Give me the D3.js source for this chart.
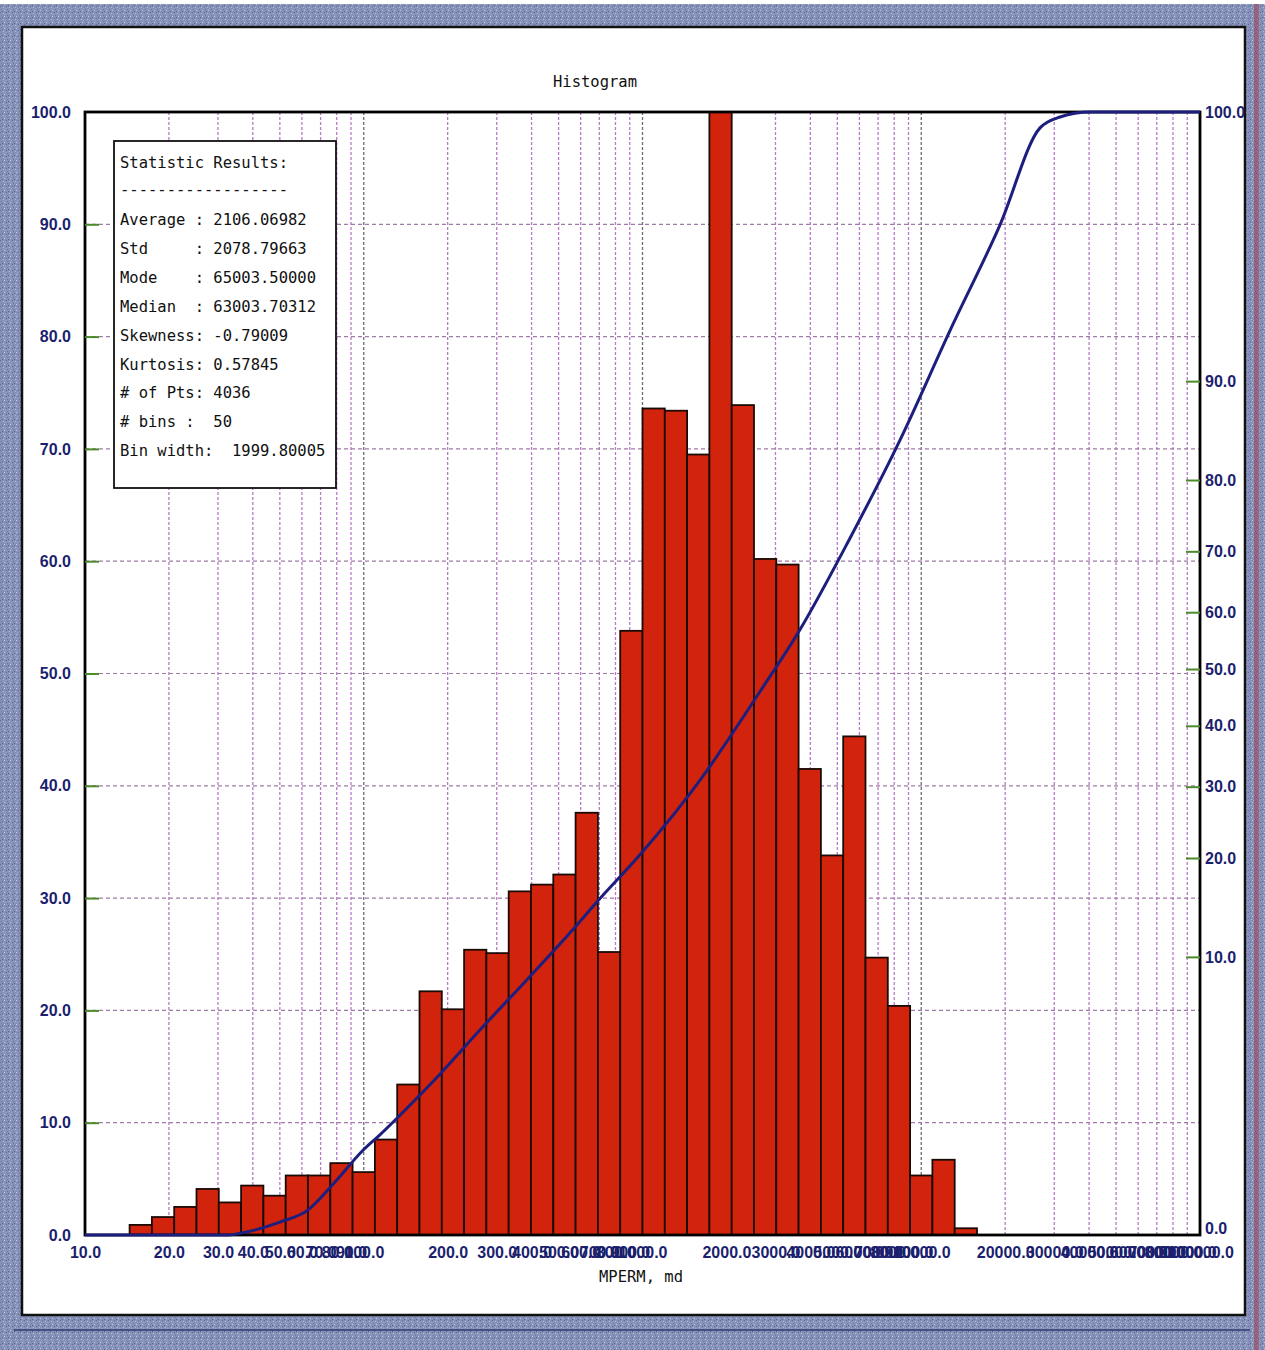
<!DOCTYPE html>
<html lang="en">
<head>
    <meta charset="UTF-8">
    <title>Histogram</title>
    <script src="https://d3js.org/d3.v7.min.js"></script>
    <style>
        body { margin: 0; background: #fff; }
        .axis text { font-family: "Liberation Sans", Arial, sans-serif; font-size: 16px; font-weight: bold; fill: #1b1f6e; }
        .mono { font-family: "DejaVu Sans Mono", monospace; font-size: 15.5px; fill: #111; white-space: pre; }
    </style>
</head>
<body>
    <svg id="chart" width="1265" height="1350"></svg>

    <script>
        // histogram bars, % of the tallest bin, 50 log-spaced bins from 10 to 100000
        const binPct = [0, 0, 0.9, 1.6, 2.5, 4.1, 2.9, 4.4, 3.5, 5.3, 5.3, 6.4,
            5.6, 8.5, 13.4, 21.7, 20.1, 25.4, 25.1, 30.6, 31.2, 32.1,
            37.6, 25.2, 53.8, 73.6, 73.4, 69.5, 100, 73.9, 60.2, 59.7,
            41.5, 33.8, 44.4, 24.7, 20.4, 5.3, 6.7, 0.6,
            0, 0, 0, 0, 0, 0, 0, 0, 0, 0];

        // cumulative curve (right axis, probability scale)
        const cumX = [10, 33, 36, 50, 63, 78, 99, 114, 150, 189, 261, 388, 563, 687, 979,
            1607, 2640, 3675, 5550, 8390, 12680, 19170, 26670, 31470, 40290, 100000];
        const cumP = [0, 0, 0.6, 0.69, 0.8, 1.1, 1.6, 1.9, 2.69, 3.6, 5.4, 8.4, 12.3, 15.0, 20.4,
            31, 46, 57, 72, 84.6, 93.4, 97.6, 99.2, 99.3, 100, 100];

        const leftTicks = d3.range(0, 101, 10);
        const rightTicks = d3.range(0, 101, 10);
        const decades = [10, 100, 1000, 10000];

        const statLines = [
            "Statistic Results:",
            "------------------",
            "Average : 2106.06982",
            "Std     : 2078.79663",
            "Mode    : 65003.50000",
            "Median  : 63003.70312",
            "Skewness: -0.79009",
            "Kurtosis: 0.57845",
            "# of Pts: 4036",
            "# bins :  50",
            "Bin width:  1999.80005"
        ];

        const nBins = binPct.length;
        const xTicks = [];
        decades.forEach(d => { for (let m = 1; m < 10; m++) xTicks.push(d * m); });
        xTicks.push(100000);

        const svg = d3.select("#chart");
        const pLeft = 85, pRight = 1200, pTop = 112, pBottom = 1235;

        const x = d3.scaleLog().domain([10, 100000]).range([pLeft, pRight]);
        const y = d3.scaleLinear().domain([0, 100]).range([pBottom, pTop]);

        // normal quantile (Abramowitz & Stegun 26.2.23)
        function probit(p) {
            if (p <= 0) return -10;
            if (p >= 1) return 10;
            const q = p < 0.5 ? p : 1 - p;
            const t = Math.sqrt(-2 * Math.log(q));
            const z = t - (2.515517 + 0.802853 * t + 0.010328 * t * t) /
                (1 + 1.432788 * t + 0.189269 * t * t + 0.001308 * t * t * t);
            return p < 0.5 ? -z : z;
        }
        const zScale = d3.scaleLinear().domain([-2.52, 2.48]).range([pBottom, pTop]).clamp(true);
        const yR = p => zScale(probit(p / 100));

        // background frame
        const defs = svg.append("defs");
        const pat = defs.append("pattern").attr("id", "noise")
            .attr("width", 6).attr("height", 6).attr("patternUnits", "userSpaceOnUse");
        pat.append("rect").attr("width", 6).attr("height", 6).attr("fill", "#8792b8");
        [[0, 0, "#5d6a9c"], [3, 1, "#b4bcd6"], [1, 3, "#6f7aa8"], [4, 4, "#c3c9de"], [2, 5, "#56639a"], [5, 2, "#9aa3c6"]]
            .forEach(d => pat.append("rect").attr("x", d[0]).attr("y", d[1])
                .attr("width", 1).attr("height", 1).attr("fill", d[2]));

        svg.append("rect").attr("x", 0).attr("y", 4).attr("width", 1265).attr("height", 1346).attr("fill", "url(#noise)");
        svg.append("rect").attr("x", 1254).attr("y", 4).attr("width", 5).attr("height", 1346).attr("fill", "#a0455a").attr("opacity", 0.6);
        svg.append("line").attr("x1", 14).attr("x2", 1250).attr("y1", 1330).attr("y2", 1330).attr("stroke", "#2f3a70").attr("stroke-width", 1.5);
        svg.append("rect").attr("x", 22).attr("y", 27).attr("width", 1223).attr("height", 1288)
            .attr("fill", "#fff").attr("stroke", "#111").attr("stroke-width", 2.5);

        // grid
        const grid = svg.append("g");
        grid.selectAll("line.v").data(xTicks.filter(v => v > 10 && v < 100000)).join("line")
            .attr("x1", d => x(d)).attr("x2", d => x(d)).attr("y1", pTop).attr("y2", pBottom)
            .attr("stroke", d => decades.includes(d) ? "#6e6a78" : "#b87ac8")
            .attr("stroke-width", 1.3).attr("stroke-dasharray", "3,2");
        grid.selectAll("line.h").data(leftTicks.filter(v => v > 0 && v < 100)).join("line")
            .attr("x1", pLeft).attr("x2", pRight).attr("y1", d => y(d)).attr("y2", d => y(d))
            .attr("stroke", "#a07aa8").attr("stroke-width", 1.2).attr("stroke-dasharray", "4,3");

        // bars
        const bins = binPct.map((v, i) => ({
            x0: Math.pow(10, 1 + 4 * i / nBins),
            x1: Math.pow(10, 1 + 4 * (i + 1) / nBins),
            v: v
        })).filter(d => d.v > 0);

        svg.append("g").selectAll("rect").data(bins).join("rect")
            .attr("x", d => x(d.x0)).attr("width", d => x(d.x1) - x(d.x0))
            .attr("y", d => y(d.v)).attr("height", d => y(0) - y(d.v))
            .attr("fill", "#d2240c").attr("stroke", "#1a0a05").attr("stroke-width", 1.8);

        // plot frame
        svg.append("rect").attr("x", pLeft).attr("y", pTop).attr("width", pRight - pLeft).attr("height", pBottom - pTop)
            .attr("fill", "none").attr("stroke", "#000").attr("stroke-width", 2.8);

        // cumulative line
        const line = d3.line().x((d, i) => x(cumX[i])).y(d => yR(d)).curve(d3.curveMonotoneX);
        svg.append("path").datum(cumP).attr("d", line)
            .attr("fill", "none").attr("stroke", "#1c1f7e").attr("stroke-width", 3);

        // axes
        const gl = svg.append("g").attr("class", "axis").attr("transform", `translate(${pLeft},0)`)
            .call(d3.axisLeft(y).tickValues(leftTicks).tickFormat(d3.format(".1f")).tickSize(-14).tickPadding(14));
        gl.select(".domain").remove();
        gl.selectAll(".tick line").attr("stroke", "#4c8a2a").attr("stroke-width", 2)
            .filter(d => d === 0 || d === 100).remove();

        const gr = svg.append("g").attr("class", "axis").attr("transform", `translate(${pRight},0)`)
            .call(d3.axisRight(d3.scaleIdentity()).tickValues(rightTicks.map(yR)).tickFormat((d, i) => d3.format(".1f")(rightTicks[i]))
                .tickSize(-14).tickPadding(5));
        gr.select(".domain").remove();
        gr.selectAll(".tick line").attr("stroke", "#4c8a2a").attr("stroke-width", 2)
            .filter((d, i) => i === 0 || i === rightTicks.length - 1).remove();
        gr.selectAll(".tick text").attr("dy", (d, i) => i === 0 ? "-0.1em" : "0.32em");

        const gb = svg.append("g").attr("class", "axis").attr("transform", `translate(0,${pBottom})`)
            .call(d3.axisBottom(x).tickValues(xTicks).tickFormat(d3.format(".1f")).tickSize(0).tickPadding(12));
        gb.select(".domain").remove();

        // titles
        svg.append("text").attr("class", "mono").attr("x", 595).attr("y", 87)
            .attr("text-anchor", "middle").text("Histogram");
        svg.append("text").attr("class", "mono").attr("x", 641).attr("y", 1282)
            .attr("text-anchor", "middle").text("MPERM, md");

        // statistics box
        svg.append("rect").attr("x", 114).attr("y", 141).attr("width", 222).attr("height", 347)
            .attr("fill", "#fff").attr("stroke", "#111").attr("stroke-width", 1.8);
        svg.append("g").selectAll("text").data(statLines).join("text")
            .attr("class", "mono").attr("x", 120)
            .attr("y", (d, i) => i === 0 ? 168 : i === 1 ? 195 : 225 + (i - 2) * 28.9)
            .text(d => d);
    </script>
</body>
</html>
